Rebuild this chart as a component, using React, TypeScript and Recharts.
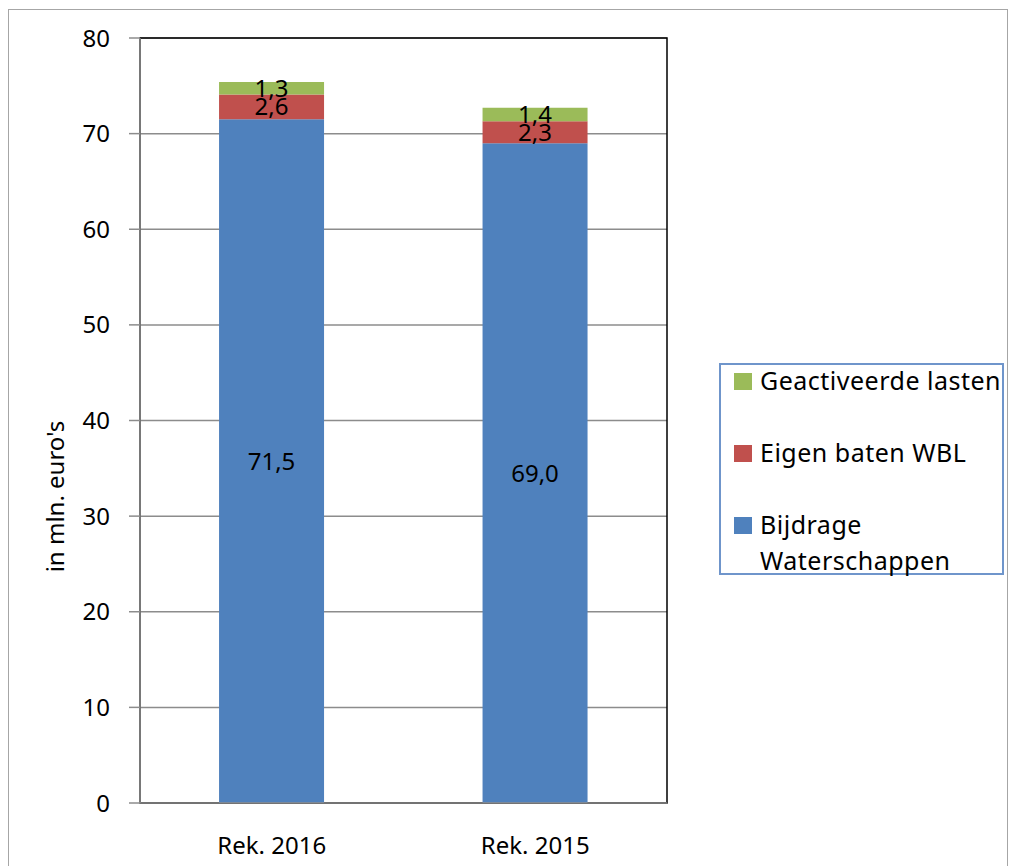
import { BarChart, Bar, XAxis, YAxis, CartesianGrid, Legend, LabelList, ReferenceArea } from 'recharts';

const categories = ['Rek. 2016', 'Rek. 2015'];
const bijdrageWaterschappen = [71.5, 69.0];
const eigenBatenWbl = [2.6, 2.3];
const geactiveerdeLasten = [1.3, 1.4];
const yTicks = [0, 10, 20, 30, 40, 50, 60, 70, 80];

const data = categories.map((name, i) => ({
  name,
  bijdrage: bijdrageWaterschappen[i],
  eigen: eigenBatenWbl[i],
  geactiveerd: geactiveerdeLasten[i],
}));

const FONT = '"Noto Sans", "Open Sans", sans-serif';
const fmt = (v: any) => Number(v).toFixed(1).replace('.', ',');

// legend box, top entry first (reverse of stacking order)
function LegendBox({ payload }: any) {
  const items = [...(payload || [])].reverse();
  return (
    <div
      style={{
        boxSizing: 'border-box',
        width: 285,
        height: 212,
        border: '2px solid #6f95cb',
        background: '#fff',
        fontFamily: FONT,
        fontSize: 25,
        letterSpacing: 0.5,
        color: '#000',
        position: 'relative',
      }}
    >
      {items.map((it: any, i: number) => (
        <div key={it.value} style={{ position: 'absolute', left: 13, top: -3 + i * 72, display: 'flex' }}>
          <span style={{ display: 'inline-block', flex: 'none', width: 18, height: 17, background: it.color, marginTop: 11, marginRight: 8 }} />
          <span style={{ width: 246, lineHeight: '36px' }}>{it.value}</span>
        </div>
      ))}
    </div>
  );
}

function AxisTitle({ viewBox }: any) {
  const x = viewBox.x + 45;
  const y = viewBox.y + viewBox.height / 2 + 76;
  return (
    <text x={x} y={y} transform={`rotate(-90 ${x} ${y})`} textAnchor="middle" dominantBaseline="central"
      fontFamily={FONT} fontSize={24} fill="#000">
      in mln. euro's
    </text>
  );
}

export default function App() {
  return (
    <div
      style={{
        position: 'fixed',
        left: 8,
        top: 9,
        width: 998,
        height: 870,
        border: '1px solid #a6a6a6',
        background: '#fff',
      }}
    >
      <BarChart
        width={998}
        height={859}
        data={data}
        margin={{ top: 28, right: 340, bottom: 0, left: 0 }}
        barCategoryGap="30%"
      >
        <CartesianGrid vertical={false} stroke="#8c8c8c" strokeWidth={1.5} />
        {/* plot frame: black on top and right */}
        <ReferenceArea y1={0} y2={80} fill="none" stroke="#000" strokeWidth={1.5} ifOverflow="visible" />
        <XAxis
          dataKey="name"
          height={66}
          tickLine={false}
          stroke="#8c8c8c"
          strokeWidth={1.5}
          tickMargin={28}
          tick={{ fill: '#000', fontSize: 24, fontFamily: FONT }}
        />
        <YAxis
          width={131}
          domain={[0, 80]}
          ticks={yTicks}
          interval={0}
          stroke="#8c8c8c"
          strokeWidth={1.5}
          tickSize={11}
          tickMargin={19}
          tick={{ fill: '#000', fontSize: 24, fontFamily: FONT }}
          label={{ content: <AxisTitle /> }}
        />
        <Bar dataKey="bijdrage" name="Bijdrage Waterschappen" stackId="a" fill="#4f81bd" isAnimationActive={false}>
          <LabelList dataKey="bijdrage" position="center" formatter={fmt} fill="#000" fontSize={24} fontFamily={FONT} />
        </Bar>
        <Bar dataKey="eigen" name="Eigen baten WBL" stackId="a" fill="#c0504d" isAnimationActive={false}>
          <LabelList dataKey="eigen" position="center" formatter={fmt} fill="#000" fontSize={24} fontFamily={FONT} />
        </Bar>
        <Bar dataKey="geactiveerd" name="Geactiveerde lasten" stackId="a" fill="#9bbb59" isAnimationActive={false}>
          <LabelList dataKey="geactiveerd" position="center" formatter={fmt} fill="#000" fontSize={24} fontFamily={FONT} />
        </Bar>
        <Legend
          layout="horizontal"
          verticalAlign="middle"
          align="center"
          content={<LegendBox />}
          wrapperStyle={{ left: 710, top: 353, width: 285, height: 212 }}
        />
      </BarChart>
    </div>
  );
}
